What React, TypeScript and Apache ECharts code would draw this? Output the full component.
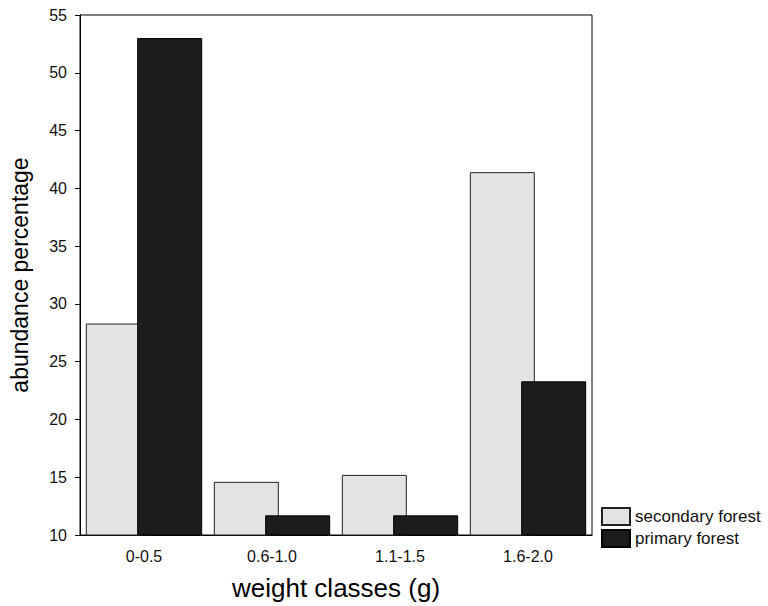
import React, { useEffect, useRef } from "react";
import * as echarts from "echarts";

const categories = ["0-0.5", "0.6-1.0", "1.1-1.5", "1.6-2.0"];
const secondaryForest = [28.3, 14.6, 15.2, 41.4];
const primaryForest = [53.0, 11.7, 11.7, 23.3];
const seriesNames = ["secondary forest", "primary forest"];

const FONT = "'Liberation Sans', Arial, sans-serif";

export default function App() {
  const ref = useRef<HTMLDivElement>(null);
  useEffect(() => {
    document.body.style.margin = "0";
    document.body.style.overflow = "hidden";
    if (!ref.current) return;
    const chart = echarts.init(ref.current, undefined, { renderer: "svg" });
    chart.setOption({
      animation: false,
      backgroundColor: "#ffffff",
      textStyle: { fontFamily: FONT },
      grid: {
        left: 76,
        top: 15,
        right: 176,
        bottom: 71,
        show: true,
        borderColor: "#000",
        borderWidth: 1,
        backgroundColor: "transparent",
      },
      legend: {
        orient: "vertical",
        left: 601,
        top: 507,
        padding: 0,
        itemWidth: 28,
        itemHeight: 17,
        itemGap: 3,
        icon: "rect",
        selectedMode: false,
        textStyle: { fontFamily: FONT, fontSize: 17, color: "#111" },
        data: seriesNames,
      },
      xAxis: {
        type: "category",
        data: categories,
        name: "weight classes (g)",
        nameLocation: "middle",
        nameGap: 40,
        nameTextStyle: { fontFamily: FONT, fontSize: 26, color: "#000" },
        axisLine: { show: true, lineStyle: { color: "#000", width: 1 } },
        axisTick: { show: false },
        axisLabel: { fontFamily: FONT, fontSize: 16, color: "#111", margin: 13 },
        splitLine: { show: false },
      },
      yAxis: {
        type: "value",
        min: 10,
        max: 55,
        interval: 5,
        name: "abundance percentage",
        nameLocation: "middle",
        nameGap: 49,
        nameRotate: 90,
        nameTextStyle: { fontFamily: FONT, fontSize: 23, color: "#000" },
        axisLine: { show: true, lineStyle: { color: "#000", width: 1 } },
        axisTick: { show: true, length: 5, lineStyle: { color: "#000" } },
        axisLabel: { fontFamily: FONT, fontSize: 16, color: "#111", margin: 13 },
        splitLine: { show: false },
      },
      series: [
        {
          name: seriesNames[0],
          type: "bar",
          data: secondaryForest,
          barWidth: 65,
          barGap: "-21%",
          itemStyle: { color: "#e3e3e3", borderColor: "#222", borderWidth: 1 },
        },
        {
          name: seriesNames[1],
          type: "bar",
          data: primaryForest,
          barWidth: 65,
          barGap: "-21%",
          itemStyle: { color: "#1c1c1c", borderColor: "#000", borderWidth: 1 },
        },
      ],
    });
    return () => chart.dispose();
  }, []);
  return (
    <div
      ref={ref}
      style={{ position: "fixed", left: 0, top: 0, width: 768, height: 606 }}
    />
  );
}
